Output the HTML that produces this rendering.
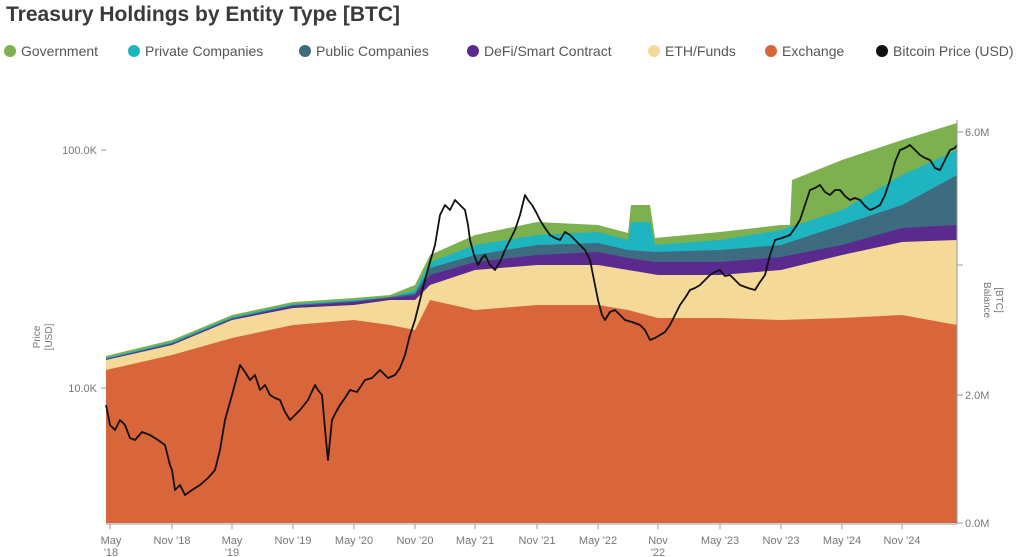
<!DOCTYPE html>
<html><head><meta charset="utf-8"><style>
body{margin:0;width:1024px;height:557px;background:#fff;font-family:"Liberation Sans",sans-serif;overflow:hidden;position:relative}
.t{position:absolute;left:6px;top:3px;font-size:21px;font-weight:bold;color:#3a3a3a}
.lg{position:absolute;top:43px;font-size:14px;color:#555;white-space:nowrap}
.lg i{display:inline-block;width:12px;height:12px;border-radius:50%;vertical-align:-1px;margin-right:5px}
</style></head><body>
<div class="t">Treasury Holdings by Entity Type [BTC]</div>
<div class="lg" style="left:4px"><i style="background:#7db04f"></i>Government</div>
<div class="lg" style="left:128px"><i style="background:#1fb5c0"></i>Private Companies</div>
<div class="lg" style="left:299px"><i style="background:#3f6b80"></i>Public Companies</div>
<div class="lg" style="left:467px"><i style="background:#5b2a8f"></i>DeFi/Smart Contract</div>
<div class="lg" style="left:648px"><i style="background:#f5d998"></i>ETH/Funds</div>
<div class="lg" style="left:765px"><i style="background:#d9653b"></i>Exchange</div>
<div class="lg" style="left:876px"><i style="background:#111"></i>Bitcoin Price (USD)</div>
<svg width="1024" height="557" style="position:absolute;left:0;top:0" font-family="Liberation Sans, sans-serif">
<polygon fill="#7db04f" points="106,523 106,356 172,340 232,315 293,302 354,298 390,295 415,285 430,255 475,235 537,222 598,225 628,233 631,205 650,205 655,238 720,232 781,225 790,225 792,180 842,160 902,140 957,123 957,523"/>
<polygon fill="#1fb5c0" points="106,523 106,358 172,342 232,317 293,304 354,300 390,297 415,290 430,262 475,245 537,235 598,232 628,240 631,222 650,222 655,245 720,240 781,230 842,210 902,175 957,150 957,523"/>
<polygon fill="#3f6b80" points="106,523 106,359 172,343 232,318 293,305 354,301 390,297 415,293 430,268 475,255 537,245 598,243 628,250 655,252 720,250 781,245 842,225 902,205 957,175 957,523"/>
<polygon fill="#5b2a8f" points="106,523 106,359 172,344 232,319 293,306 354,302 390,298 415,295 430,275 475,262 537,255 598,252 628,258 655,262 720,262 781,257 842,245 902,228 957,225 957,523"/>
<polygon fill="#f5d998" points="106,523 106,360 172,345 232,320 293,308 354,305 390,300 415,300 430,285 475,270 537,265 598,265 628,270 658,275 720,275 781,270 842,255 902,242 957,240 957,523"/>
<polygon fill="#d9653b" points="106,523 106,370 172,355 232,338 293,325 354,320 390,325 415,330 430,300 475,310 537,305 598,305 628,310 658,318 720,318 781,320 842,318 902,315 957,325 957,523"/>
<polyline fill="none" stroke="#111" stroke-width="1.8" stroke-linejoin="round" points="106,405 110,425 115,430 120,420 125,425 130,438 135,440 142,432 150,435 158,440 165,445 170,465 172,470 175,490 180,485 185,495 192,490 200,485 208,478 215,470 220,450 225,420 232,395 240,365 245,372 250,380 255,375 260,390 265,385 270,395 275,398 280,400 285,412 290,420 295,415 300,410 308,400 315,385 318,390 322,395 326,440 328,460 332,420 336,412 340,405 345,398 350,390 357,392 365,380 372,378 380,370 388,378 395,375 400,368 405,355 410,335 415,320 420,300 425,280 430,262 435,245 440,215 445,205 450,210 455,200 460,205 465,210 468,225 470,240 474,255 478,265 482,258 485,255 490,265 495,270 500,262 505,250 510,240 515,230 520,215 525,195 528,200 532,205 536,212 540,220 545,228 550,235 555,238 560,240 565,232 570,235 575,240 580,245 585,250 590,260 594,280 598,300 602,315 605,320 610,312 615,310 620,315 625,320 632,322 640,325 645,330 650,340 655,338 660,335 665,332 670,325 675,315 680,305 685,298 690,290 695,288 700,285 705,280 710,275 715,272 720,270 725,276 730,275 735,280 740,285 748,288 755,290 760,282 765,275 770,255 775,240 782,238 790,235 795,228 800,220 805,205 810,190 815,188 820,185 825,192 830,195 835,190 840,190 845,196 850,200 855,198 860,200 865,206 870,210 875,208 880,205 885,195 890,180 895,162 900,150 905,148 910,145 915,150 920,155 925,158 930,160 935,168 940,170 945,160 950,150 955,148 957,145"/>
<g stroke="#999" stroke-width="1">
<line x1="957" y1="120" x2="957" y2="524"/>
<line x1="106" y1="524" x2="957" y2="524"/>
<line x1="957" y1="132" x2="963" y2="132"/><line x1="957" y1="265" x2="963" y2="265"/><line x1="957" y1="395" x2="963" y2="395"/><line x1="957" y1="523" x2="963" y2="523"/>
<line x1="101" y1="150" x2="106" y2="150"/><line x1="101" y1="388" x2="106" y2="388"/>
<line x1="110" y1="524" x2="110" y2="529"/><line x1="172" y1="524" x2="172" y2="529"/><line x1="232" y1="524" x2="232" y2="529"/><line x1="293" y1="524" x2="293" y2="529"/><line x1="354" y1="524" x2="354" y2="529"/><line x1="415" y1="524" x2="415" y2="529"/><line x1="475" y1="524" x2="475" y2="529"/><line x1="537" y1="524" x2="537" y2="529"/><line x1="598" y1="524" x2="598" y2="529"/><line x1="658" y1="524" x2="658" y2="529"/><line x1="720" y1="524" x2="720" y2="529"/><line x1="781" y1="524" x2="781" y2="529"/><line x1="842" y1="524" x2="842" y2="529"/><line x1="902" y1="524" x2="902" y2="529"/>
</g>
<g fill="#777" font-size="11">
<text x="965" y="136">6.0M</text><text x="965" y="399">2.0M</text><text x="965" y="527">0.0M</text>
<text x="97" y="154" text-anchor="end">100.0K</text><text x="97" y="392" text-anchor="end">10.0K</text>
<g text-anchor="middle">
<text x="111" y="544">May</text><text x="111" y="556">'18</text>
<text x="172" y="544">Nov '18</text>
<text x="232" y="544">May</text><text x="232" y="556">'19</text>
<text x="293" y="544">Nov '19</text><text x="354" y="544">May '20</text><text x="415" y="544">Nov '20</text><text x="475" y="544">May '21</text><text x="537" y="544">Nov '21</text><text x="598" y="544">May '22</text>
<text x="658" y="544">Nov</text><text x="658" y="556">'22</text>
<text x="720" y="544">May '23</text><text x="781" y="544">Nov '23</text><text x="842" y="544">May '24</text><text x="902" y="544">Nov '24</text>
</g>
<text transform="translate(40,337) rotate(-90)" text-anchor="middle" font-size="10">Price</text>
<text transform="translate(52,337) rotate(-90)" text-anchor="middle" font-size="10">[USD]</text>
<text transform="translate(984,300) rotate(90)" text-anchor="middle" font-size="10">Balance</text>
<text transform="translate(996,300) rotate(90)" text-anchor="middle" font-size="10">[BTC]</text>
</g>
</svg>
</body></html>
